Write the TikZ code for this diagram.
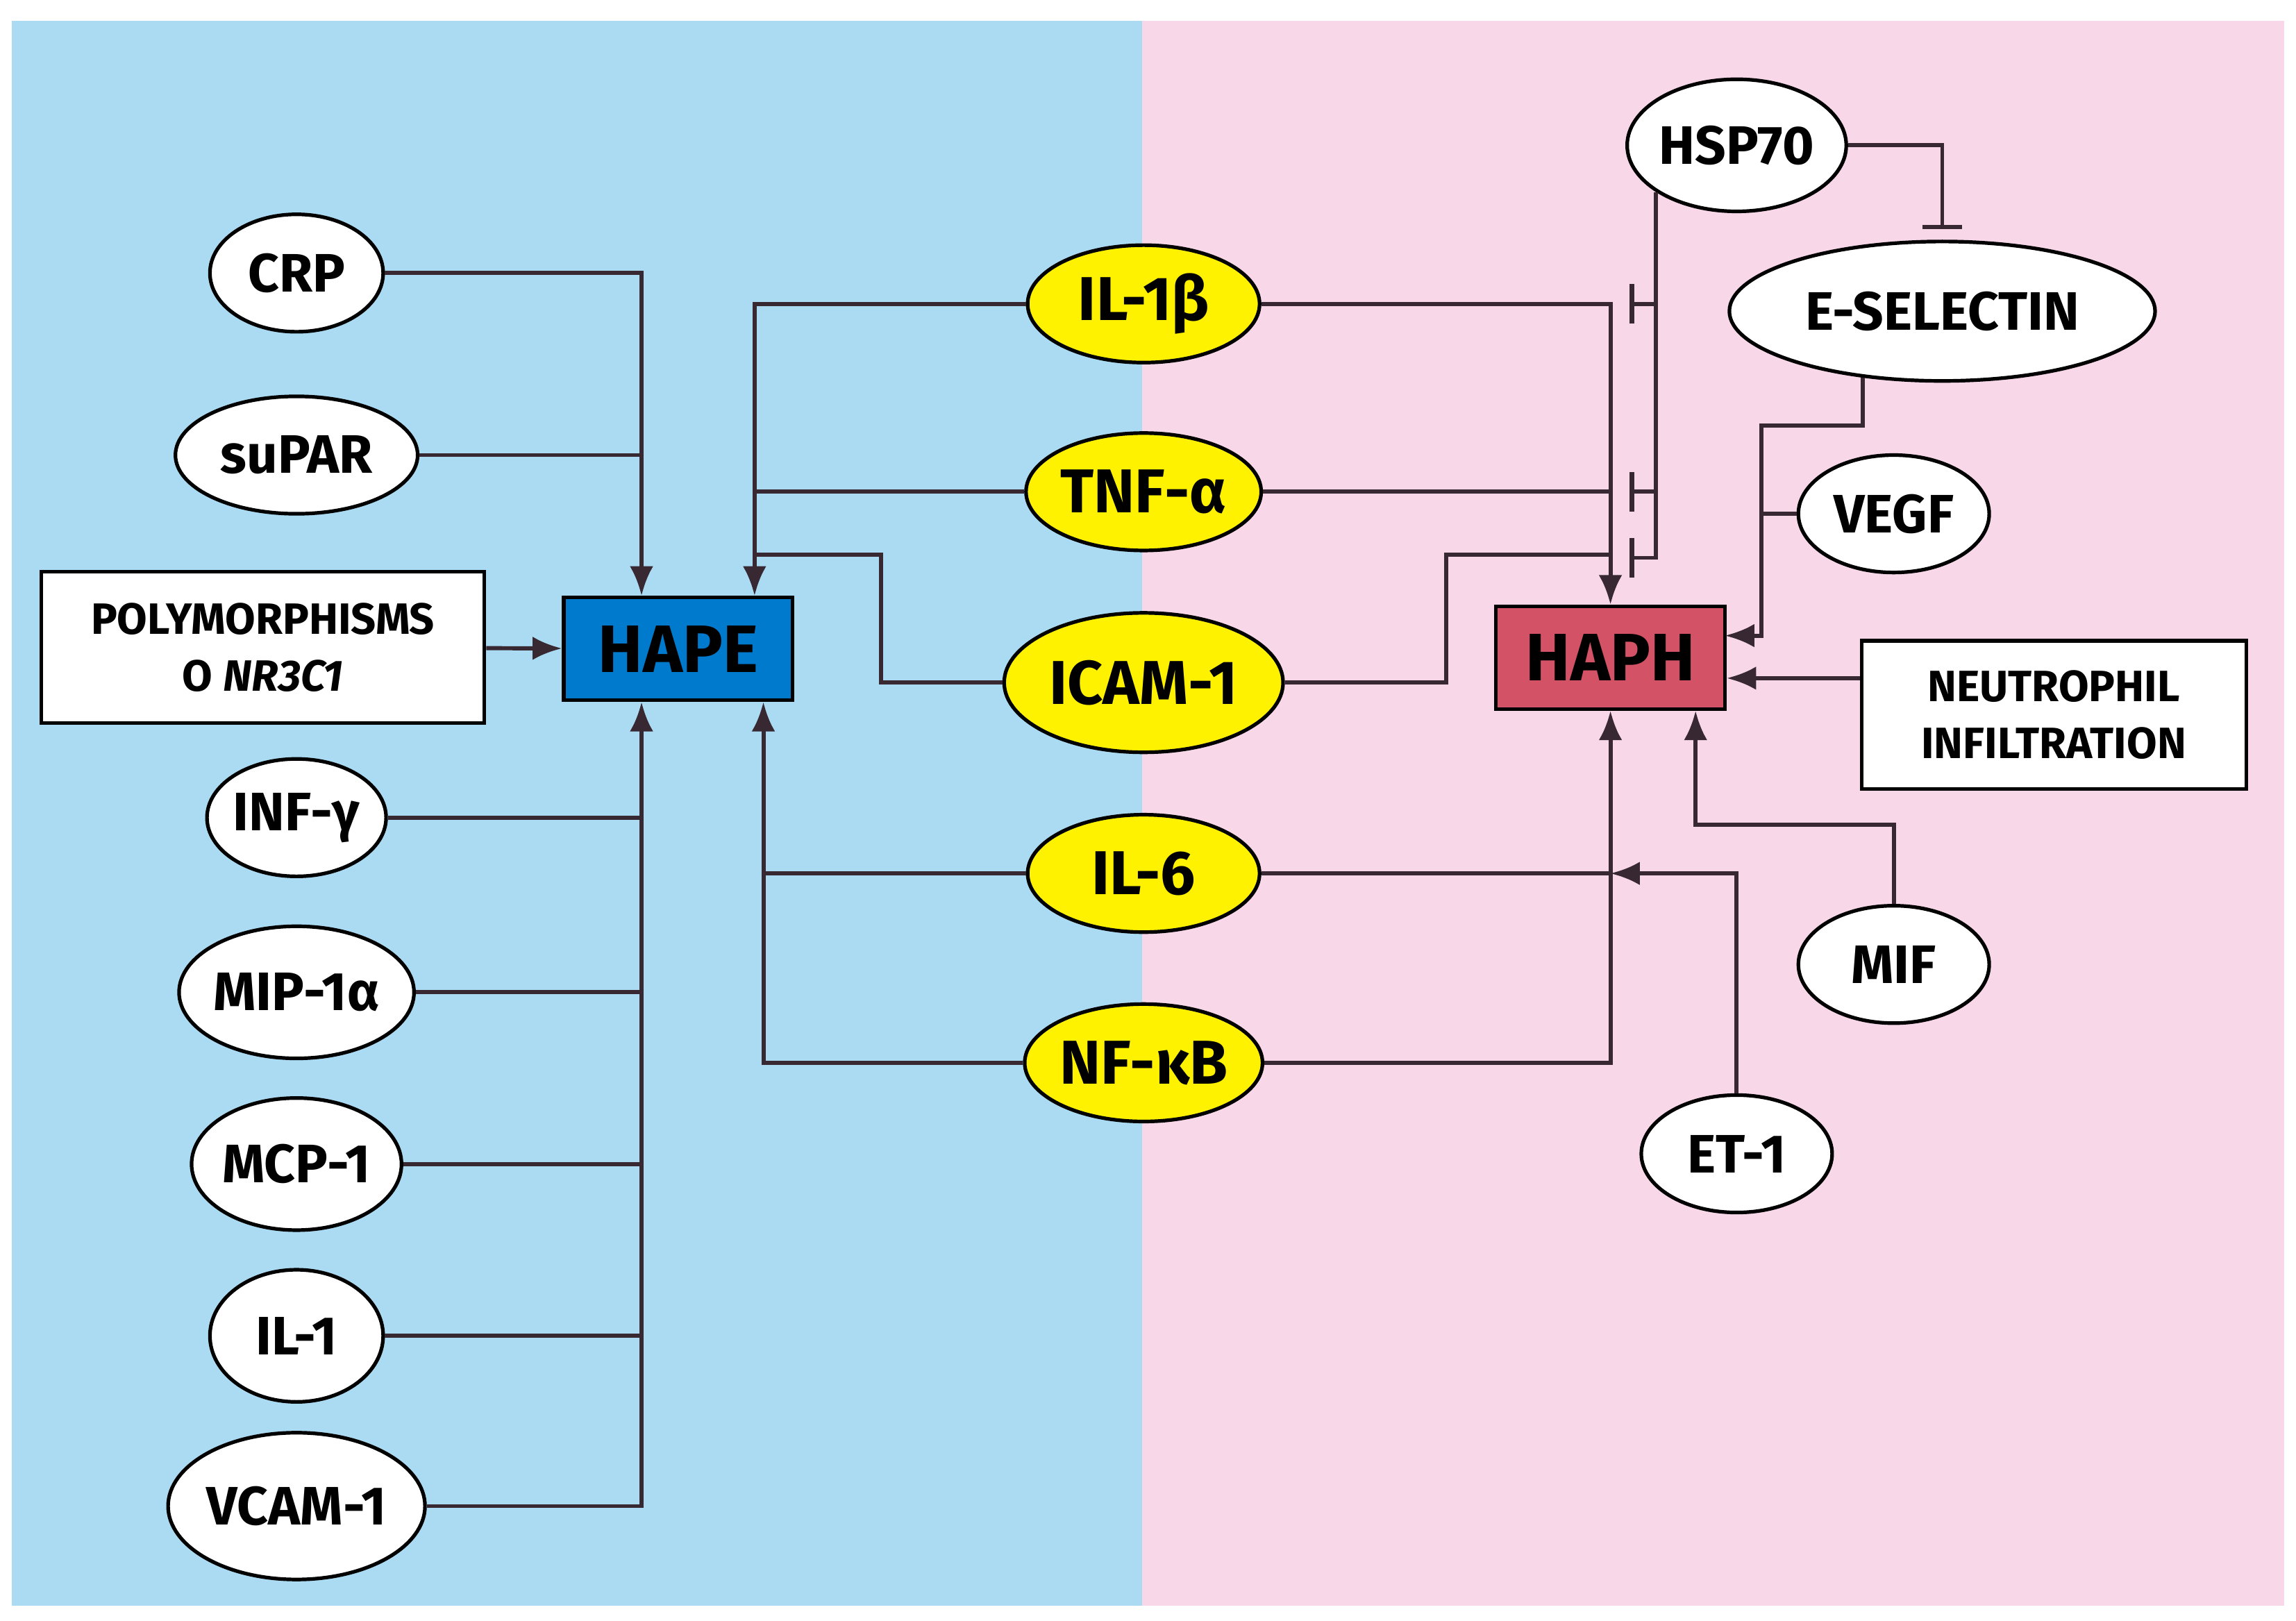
\documentclass[tikz,border=0pt]{standalone}
\usepackage{fontspec}
\setmainfont{Fira Sans}
\usetikzlibrary{arrows.meta,shapes.geometric,positioning}
\definecolor{leftbg}{RGB}{171,219,243}
\definecolor{rightbg}{RGB}{248,215,233}
\definecolor{hapeblue}{RGB}{0,122,204}
\definecolor{haphred}{RGB}{212,82,102}
\definecolor{linkcol}{RGB}{55,40,50}
\tikzset{
  mol/.style={ellipse, draw=black, line width=0.7pt, fill=white, inner sep=0pt,
    font=\bfseries\fontsize{10.5}{12}\selectfont},
  hub/.style={mol, fill=yellow, font=\bfseries\fontsize{12}{14}\selectfont},
  disease/.style={rectangle, draw=black, line width=0.7pt, minimum width=15.6mm,
    minimum height=7mm, font=\bfseries\fontsize{13}{15}\selectfont},
  factor/.style={rectangle, draw=black, line width=0.7pt, fill=white, align=center,
    font=\bfseries\fontsize{8.5}{11}\selectfont},
  link/.style={draw=linkcol, line width=0.8pt},
  act/.style={link, -{Latex[length=2mm,width=1.6mm]}},
  inh/.style={link, -{Bar[width=2.7mm,line width=0.9pt]}},
}
\begin{document}
\begin{tikzpicture}[x=0.1mm,y=-0.1mm]
\useasboundingbox (0,0) rectangle (1564,1104);
% panels
\fill[white] (0,0) rectangle (1564,1104);
\fill[leftbg] (8,14) rectangle (778,1094);
\fill[rightbg] (778,14) rectangle (1556,1094);
% HAPE side
\node[disease, fill=hapeblue] (hape) at (462,442) {HAPE};
\node[factor, minimum width=30.2mm, minimum height=10.3mm] (poly) at (179,441) {POLYMORPHISMS\\O \textit{NR3C1}};
\node[mol, minimum width=11.8mm, minimum height=8mm] (crp) at (202,186) {CRP};
\node[mol, minimum width=16.5mm, minimum height=8mm] (supar) at (202,310) {suPAR};
\node[mol, minimum width=11.8mm, minimum height=8mm] (infg) at (202,557) {INF-γ};
\node[mol, minimum width=14mm, minimum height=9mm] (mip) at (202,676) {MIP-1α};
\node[mol, minimum width=14mm, minimum height=9mm] (mcp) at (202,793) {MCP-1};
\node[mol, minimum width=11.8mm, minimum height=9mm] (ilone) at (202,910) {IL-1};
\node[mol, minimum width=17.5mm, minimum height=10mm] (vcam) at (202,1026) {VCAM-1};
% shared mediators
\node[hub, minimum width=15.8mm, minimum height=8mm] (il1b) at (779,207) {IL-1β};
\node[hub, minimum width=15.8mm, minimum height=8mm] (tnf) at (779,335) {TNF-α};
\node[hub, minimum width=19mm, minimum height=9.5mm] (icam) at (779,465) {ICAM-1};
\node[hub, minimum width=15.8mm, minimum height=8mm] (il6) at (779,595) {IL-6};
\node[hub, minimum width=15.8mm, minimum height=8mm] (nfkb) at (779,724) {NF-κB};
% HAPH side
\node[disease, fill=haphred] (haph) at (1097,448) {HAPH};
\node[mol, minimum width=14.5mm, minimum height=9mm] (hsp) at (1183,99) {HSP70};
\node[mol, minimum width=29mm, minimum height=9.5mm] (esel) at (1323,212) {E-SELECTIN};
\node[mol, minimum width=13mm, minimum height=8mm] (vegf) at (1290,350) {VEGF};
\node[factor, minimum width=26.2mm, minimum height=10.1mm] (neut) at (1399,487) {NEUTROPHIL\\INFILTRATION};
\node[mol, minimum width=13mm, minimum height=8mm] (mif) at (1290,657) {MIF};
\node[mol, minimum width=13mm, minimum height=8mm] (et1) at (1183,786) {ET-1};
% anchors on the boxes
\coordinate (hapeN) at ([xshift=-2.5mm]hape.north);
\coordinate (hapeS) at ([xshift=-2.5mm]hape.south);
\coordinate (hapeNR) at ([xshift=5.2mm]hape.north);
\coordinate (hapeSR) at ([xshift=5.8mm]hape.south);
\coordinate (icamL) at (600,378);
\coordinate (icamR) at (985,378);
\coordinate (bar1) at (1110,207);
\coordinate (bar2) at (1110,335);
\coordinate (bar3) at (1110,380);
\coordinate (selbend) at (1200,290);
\coordinate (haphin) at (1175,433);
\coordinate (mifbend) at (1155,562);
% left inputs
\draw[act] (crp) -| (hapeN);
\draw[link] (supar) -- (supar -| hapeN);
\draw[act] (poly) -- (hape);
\draw[act] (vcam) -| (hapeS);
\foreach \m in {infg,mip,mcp,ilone}
  \draw[link] (\m) -- (\m -| hapeS);
% mediators to HAPE
\draw[act] (il1b) -| (hapeNR);
\draw[link] (tnf) -- (tnf -| hapeNR);
\draw[link] (icam) -| (icamL) -- (icamL -| hapeNR);
\draw[act] (nfkb) -| (hapeSR);
\draw[link] (il6) -- (il6 -| hapeSR);
% mediators to HAPH
\draw[act] (il1b) -| (haph.north);
\draw[link] (tnf) -- (tnf -| haph.north);
\draw[link] (icam) -| (icamR) -- (icamR -| haph.north);
\draw[act] (nfkb) -| (haph.south);
\draw[link] (il6) -- (il6 -| haph.south);
\draw[act] (et1) |- (il6 -| haph.south);
% HSP70 inhibition
\draw[inh] (hsp.-150) |- (bar3);
\draw[inh] (hsp.-150 |- bar1) -- (bar1);
\draw[inh] (hsp.-150 |- bar2) -- (bar2);
\draw[inh, shorten >=0.7mm] (hsp) -| (esel);
% right inputs
\draw[act] (esel.-140) |- (selbend) |- (haphin);
\draw[link] (vegf) -- (vegf -| selbend);
\draw[act] ([yshift=2.5mm]neut.west) -- ([yshift=2.5mm]neut.west -| haph.east);
\draw[act] (mif) |- (mifbend) -- (mifbend |- haph.south);
\end{tikzpicture}
\end{document}
